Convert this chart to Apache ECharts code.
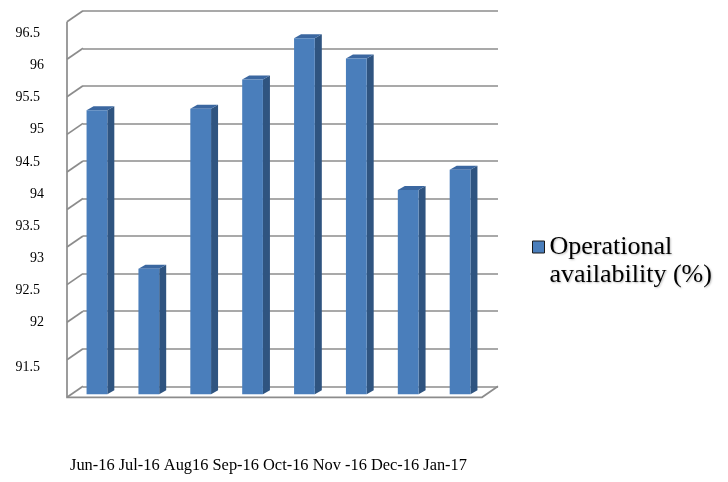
<!DOCTYPE html>
<html><head><meta charset="utf-8">
<script src="https://cdn.jsdelivr.net/npm/echarts@6/dist/echarts.min.js"></script>
<style>html,body{margin:0;padding:0;background:#fff}#chart{width:728px;height:482px}</style>
</head><body><div id="chart"></div>
<script>
// Monthly operational availability, drawn as a box-style 3D column chart
const months = ['Jun-16', 'Jul-16', 'Aug16', 'Sep-16', 'Oct-16', 'Nov -16', 'Dec-16', 'Jan-17'];
const availability = [95.28, 93.17, 95.30, 95.69, 96.24, 95.97, 94.22, 94.49];
const yTicks = [91.5, 92, 92.5, 93, 93.5, 94, 94.5, 95, 95.5, 96, 96.5];
const seriesName = 'Operational availability (%)';

const Y_MIN = yTicks[0], Y_MAX = yTicks[yTicks.length - 1], Y_STEP = 0.5;
const DEPTH = [16, -11];       // offset from the front plane to the back wall
const BAR_SHIFT = [4, -3];     // bars sit slightly behind the front plane
const BAR_DEPTH = [7, -4];     // visible depth of each column
const GRID_COLOR = '#8c8c8c';
const GRID_WIDTH = 1.7;
const FONT = '"Liberation Serif", "Times New Roman", serif';
const FRONT = { left: 67, top: 21.7, width: 415, height: 375.6 };

const chart = echarts.init(document.getElementById('chart'), null, { renderer: 'canvas' });

function bandLeft(api, idx) {
  return api.coord([idx, Y_MIN])[0] - api.size([1, 0])[0] / 2;
}

// Left wall diagonals, one per tick value
function renderLeftWall(params, api) {
  const v = api.value(1);
  const p = api.coord([0, v]);
  const x = bandLeft(api, 0);
  return {
    type: 'line',
    shape: { x1: x, y1: p[1], x2: x + DEPTH[0], y2: p[1] + DEPTH[1] },
    style: { stroke: GRID_COLOR, lineWidth: GRID_WIDTH }
  };
}

// Front vertical edge and floor outline
function renderFrame(params, api) {
  const last = months.length - 1;
  const x0 = bandLeft(api, 0);
  const x1 = bandLeft(api, last) + api.size([1, 0])[0];
  const yb = api.coord([0, Y_MIN])[1];
  const yt = api.coord([0, Y_MAX])[1];
  return {
    type: 'polyline',
    shape: { points: [[x0, yt], [x0, yb], [x1, yb], [x1 + DEPTH[0], yb + DEPTH[1]]] },
    style: { stroke: GRID_COLOR, lineWidth: GRID_WIDTH, fill: null }
  };
}

// Column with front, side and top faces
function renderColumn(params, api) {
  const idx = api.value(0);
  const top = api.coord([idx, api.value(1)]);
  const base = api.coord([idx, Y_MIN]);
  const band = api.size([1, 0])[0];
  const w = band * 0.4;
  const x0 = top[0] - w / 2 + BAR_SHIFT[0];
  const yt = top[1] + BAR_SHIFT[1];
  const yb = base[1] + BAR_SHIFT[1];
  const dx = BAR_DEPTH[0], dy = BAR_DEPTH[1];
  return {
    type: 'group',
    children: [
      { type: 'polygon', shape: { points: [[x0 + w, yt], [x0 + w + dx, yt + dy], [x0 + w + dx, yb + dy], [x0 + w, yb]] },
        style: { fill: '#2f5480' } },
      { type: 'polygon', shape: { points: [[x0, yt], [x0 + dx, yt + dy], [x0 + w + dx, yt + dy], [x0 + w, yt]] },
        style: { fill: '#3b67a0' } },
      { type: 'rect', shape: { x: x0, y: yt, width: w, height: yb - yt },
        style: { fill: '#4a7ebb' } }
    ]
  };
}

const option = {
  backgroundColor: '#ffffff',
  animation: false,
  title: {
    text: months.join(' '),
    left: 70, top: 458, padding: 0,
    textStyle: { fontFamily: FONT, fontSize: 16.4, fontWeight: 'normal', color: '#000', lineHeight: 16 }
  },
  legend: {
    data: [{ name: seriesName, icon: 'rect',
      itemStyle: { color: '#4a7ebb', borderColor: '#1a1a1a', borderWidth: 1 } }],
    left: 532, top: 205, padding: 0,
    itemWidth: 12, itemHeight: 12, itemGap: 7,
    // leading blank line keeps the marker level with the first text line
    formatter: name => '\n' + name.replace(' ', '\n'),
    textStyle: { fontFamily: FONT, fontSize: 26, lineHeight: 28, color: '#000',
      textShadowColor: 'rgba(0,0,0,0.25)', textShadowBlur: 2, textShadowOffsetX: 1, textShadowOffsetY: 1 }
  },
  grid: [
    { left: FRONT.left, top: FRONT.top, width: FRONT.width, height: FRONT.height },
    { left: FRONT.left + DEPTH[0], top: FRONT.top + DEPTH[1], width: FRONT.width, height: FRONT.height },
    { left: 50, top: 33.3, width: 10, height: 321.6 }
  ],
  xAxis: [
    { gridIndex: 0, type: 'category', data: months, show: false },
    { gridIndex: 1, type: 'category', data: months, show: false },
    { gridIndex: 2, type: 'category', data: months, show: false }
  ],
  yAxis: [
    { gridIndex: 0, type: 'value', min: Y_MIN, max: Y_MAX, interval: Y_STEP, show: false },
    { gridIndex: 1, type: 'value', min: Y_MIN, max: Y_MAX, interval: Y_STEP,
      axisLine: { show: false }, axisTick: { show: false }, axisLabel: { show: false },
      splitLine: { show: true, lineStyle: { color: GRID_COLOR, width: GRID_WIDTH } } },
    { gridIndex: 2, type: 'value', min: Y_MIN, max: Y_MAX, interval: Y_STEP,
      axisLine: { show: false }, axisTick: { show: false }, splitLine: { show: false },
      axisLabel: {
        margin: 6,
        formatter: v => {
          const label = String(v);
          if (v === Y_MIN) return '{low|' + label + '}';
          return Number.isInteger(v) ? '{whole|' + label + '}' : '{half|' + label + '}';
        },
        rich: {
          whole: { fontFamily: FONT, fontSize: 14, color: '#000', padding: [0, 0, 0, 0] },
          half: { fontFamily: FONT, fontSize: 14, color: '#000', padding: [0, 4, 0, 0] },
          low: { fontFamily: FONT, fontSize: 14, color: '#000', padding: [24, 4, 0, 0] }
        }
      } }
  ],
  series: [
    { type: 'custom', name: 'wall', xAxisIndex: 0, yAxisIndex: 0, silent: true,
      renderItem: renderLeftWall, data: yTicks.map(v => [0, v]) },
    { type: 'custom', name: 'frame', xAxisIndex: 0, yAxisIndex: 0, silent: true,
      renderItem: renderFrame, data: [[0, Y_MIN]] },
    { type: 'custom', name: seriesName, xAxisIndex: 0, yAxisIndex: 0,
      renderItem: renderColumn,
      itemStyle: { color: '#4a7ebb' },
      data: availability.map((v, i) => [i, v]) }
  ]
};

chart.setOption(option);
</script>
</body></html>
